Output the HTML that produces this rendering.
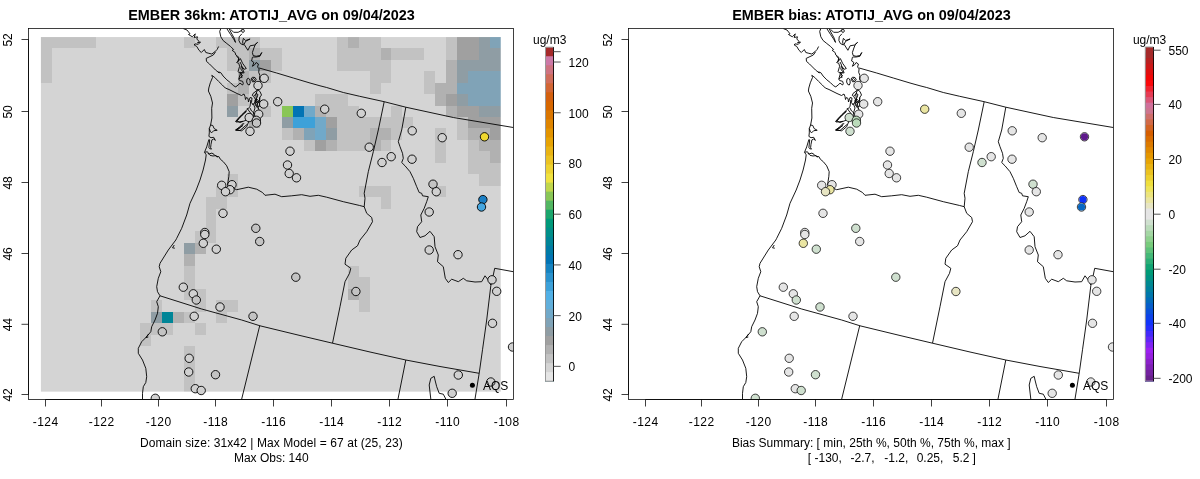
<!DOCTYPE html>
<html lang="en">
<head>
<meta charset="utf-8">
<title>EMBER 36km ATOTIJ_AVG</title>
<style>
html,body{margin:0;padding:0;background:#fff;}
body{width:1200px;height:479px;overflow:hidden;}
svg{display:block;}
text{font-family:"Liberation Sans",Arial,Helvetica,sans-serif;fill:#000;}
.t12{font-size:12px;}
.mid{text-anchor:middle;}
.xl{letter-spacing:0.45px;}
.ttl{font-size:14.4px;font-weight:bold;text-anchor:middle;}
</style>
</head>
<body>
<svg width="1200" height="479" viewBox="0 0 1200 479">
<defs><clipPath id="clipP"><rect x="28.5" y="28.5" width="485" height="371"/></clipPath></defs>
<rect x="0" y="0" width="1200" height="479" fill="#fff"/>
<g transform="translate(0,0)">
<g clip-path="url(#clipP)">
<g shape-rendering="crispEdges">
<rect x="40" y="36" width="462" height="357" fill="#D4D4D4"/>
<rect x="40" y="36" width="56" height="12" fill="#C2C2C2"/>
<rect x="184" y="36" width="11" height="12" fill="#C2C2C2"/>
<rect x="216" y="36" width="44" height="12" fill="#C2C2C2"/>
<rect x="337" y="36" width="11" height="12" fill="#C2C2C2"/>
<rect x="348" y="36" width="11" height="12" fill="#B1B1B1"/>
<rect x="359" y="36" width="22" height="12" fill="#C2C2C2"/>
<rect x="446" y="36" width="11" height="12" fill="#C2C2C2"/>
<rect x="457" y="36" width="22" height="12" fill="#A0A0A0"/>
<rect x="479" y="36" width="11" height="12" fill="#8F9DA4"/>
<rect x="490" y="36" width="12" height="12" fill="#80A3B7"/>
<rect x="40" y="48" width="12" height="12" fill="#C2C2C2"/>
<rect x="227" y="48" width="22" height="12" fill="#C2C2C2"/>
<rect x="249" y="48" width="11" height="12" fill="#B1B1B1"/>
<rect x="260" y="48" width="22" height="12" fill="#C2C2C2"/>
<rect x="337" y="48" width="44" height="12" fill="#C2C2C2"/>
<rect x="381" y="48" width="10" height="12" fill="#B1B1B1"/>
<rect x="391" y="48" width="33" height="12" fill="#C2C2C2"/>
<rect x="446" y="48" width="11" height="12" fill="#C2C2C2"/>
<rect x="457" y="48" width="22" height="12" fill="#A0A0A0"/>
<rect x="479" y="48" width="23" height="12" fill="#8F9DA4"/>
<rect x="40" y="60" width="12" height="11" fill="#C2C2C2"/>
<rect x="227" y="60" width="22" height="11" fill="#C2C2C2"/>
<rect x="249" y="60" width="11" height="11" fill="#8F9DA4"/>
<rect x="260" y="60" width="11" height="11" fill="#A0A0A0"/>
<rect x="271" y="60" width="11" height="11" fill="#C2C2C2"/>
<rect x="337" y="60" width="54" height="11" fill="#C2C2C2"/>
<rect x="446" y="60" width="11" height="11" fill="#B1B1B1"/>
<rect x="457" y="60" width="45" height="11" fill="#8F9DA4"/>
<rect x="40" y="71" width="12" height="12" fill="#C2C2C2"/>
<rect x="238" y="71" width="11" height="12" fill="#B1B1B1"/>
<rect x="249" y="71" width="22" height="12" fill="#C2C2C2"/>
<rect x="370" y="71" width="21" height="12" fill="#C2C2C2"/>
<rect x="424" y="71" width="11" height="12" fill="#C2C2C2"/>
<rect x="446" y="71" width="11" height="12" fill="#B1B1B1"/>
<rect x="457" y="71" width="11" height="12" fill="#8F9DA4"/>
<rect x="468" y="71" width="34" height="12" fill="#80A3B7"/>
<rect x="227" y="83" width="11" height="11" fill="#C2C2C2"/>
<rect x="238" y="83" width="11" height="11" fill="#B1B1B1"/>
<rect x="370" y="83" width="11" height="11" fill="#C2C2C2"/>
<rect x="424" y="83" width="11" height="11" fill="#C2C2C2"/>
<rect x="435" y="83" width="22" height="11" fill="#B1B1B1"/>
<rect x="457" y="83" width="45" height="11" fill="#80A3B7"/>
<rect x="227" y="94" width="11" height="12" fill="#A0A0A0"/>
<rect x="238" y="94" width="11" height="12" fill="#C2C2C2"/>
<rect x="315" y="94" width="33" height="12" fill="#C2C2C2"/>
<rect x="435" y="94" width="11" height="12" fill="#B1B1B1"/>
<rect x="446" y="94" width="11" height="12" fill="#A0A0A0"/>
<rect x="457" y="94" width="11" height="12" fill="#8F9DA4"/>
<rect x="468" y="94" width="34" height="12" fill="#80A3B7"/>
<rect x="227" y="106" width="11" height="11" fill="#8F9DA4"/>
<rect x="260" y="106" width="11" height="11" fill="#C2C2C2"/>
<rect x="282" y="106" width="11" height="11" fill="#89C657"/>
<rect x="293" y="106" width="11" height="11" fill="#0274B4"/>
<rect x="304" y="106" width="11" height="11" fill="#71A9C9"/>
<rect x="315" y="106" width="11" height="11" fill="#B1B1B1"/>
<rect x="326" y="106" width="33" height="11" fill="#C2C2C2"/>
<rect x="391" y="106" width="11" height="11" fill="#C2C2C2"/>
<rect x="446" y="106" width="11" height="11" fill="#B1B1B1"/>
<rect x="457" y="106" width="22" height="11" fill="#A0A0A0"/>
<rect x="479" y="106" width="23" height="11" fill="#8F9DA4"/>
<rect x="249" y="117" width="11" height="11" fill="#B1B1B1"/>
<rect x="282" y="117" width="11" height="11" fill="#8F9DA4"/>
<rect x="293" y="117" width="22" height="11" fill="#3DA1D9"/>
<rect x="315" y="117" width="11" height="11" fill="#71A9C9"/>
<rect x="326" y="117" width="11" height="11" fill="#A0A0A0"/>
<rect x="337" y="117" width="76" height="11" fill="#C2C2C2"/>
<rect x="457" y="117" width="11" height="11" fill="#C2C2C2"/>
<rect x="468" y="117" width="34" height="11" fill="#A0A0A0"/>
<rect x="282" y="128" width="11" height="12" fill="#C2C2C2"/>
<rect x="293" y="128" width="11" height="12" fill="#B1B1B1"/>
<rect x="304" y="128" width="11" height="12" fill="#80A3B7"/>
<rect x="315" y="128" width="11" height="12" fill="#71A9C9"/>
<rect x="326" y="128" width="11" height="12" fill="#8F9DA4"/>
<rect x="337" y="128" width="33" height="12" fill="#C2C2C2"/>
<rect x="370" y="128" width="21" height="12" fill="#B1B1B1"/>
<rect x="391" y="128" width="11" height="12" fill="#C2C2C2"/>
<rect x="435" y="128" width="11" height="12" fill="#C2C2C2"/>
<rect x="457" y="128" width="11" height="12" fill="#C2C2C2"/>
<rect x="468" y="128" width="22" height="12" fill="#B1B1B1"/>
<rect x="490" y="128" width="12" height="12" fill="#A0A0A0"/>
<rect x="304" y="140" width="11" height="11" fill="#C2C2C2"/>
<rect x="315" y="140" width="11" height="11" fill="#A0A0A0"/>
<rect x="326" y="140" width="11" height="11" fill="#B1B1B1"/>
<rect x="337" y="140" width="33" height="11" fill="#C2C2C2"/>
<rect x="370" y="140" width="11" height="11" fill="#B1B1B1"/>
<rect x="381" y="140" width="10" height="11" fill="#C2C2C2"/>
<rect x="435" y="140" width="11" height="11" fill="#C2C2C2"/>
<rect x="468" y="140" width="11" height="11" fill="#C2C2C2"/>
<rect x="479" y="140" width="23" height="11" fill="#B1B1B1"/>
<rect x="435" y="151" width="11" height="12" fill="#C2C2C2"/>
<rect x="468" y="151" width="22" height="12" fill="#C2C2C2"/>
<rect x="490" y="151" width="12" height="12" fill="#B1B1B1"/>
<rect x="468" y="163" width="34" height="11" fill="#C2C2C2"/>
<rect x="227" y="174" width="11" height="12" fill="#C2C2C2"/>
<rect x="479" y="174" width="23" height="12" fill="#C2C2C2"/>
<rect x="216" y="186" width="22" height="11" fill="#C2C2C2"/>
<rect x="359" y="186" width="32" height="11" fill="#C2C2C2"/>
<rect x="435" y="186" width="11" height="11" fill="#C2C2C2"/>
<rect x="206" y="197" width="21" height="12" fill="#C2C2C2"/>
<rect x="381" y="197" width="10" height="12" fill="#C2C2C2"/>
<rect x="206" y="209" width="10" height="11" fill="#C2C2C2"/>
<rect x="206" y="220" width="10" height="11" fill="#C2C2C2"/>
<rect x="195" y="231" width="21" height="12" fill="#C2C2C2"/>
<rect x="184" y="243" width="11" height="11" fill="#8F9DA4"/>
<rect x="195" y="243" width="11" height="11" fill="#B1B1B1"/>
<rect x="184" y="254" width="11" height="12" fill="#B1B1B1"/>
<rect x="184" y="266" width="11" height="11" fill="#C2C2C2"/>
<rect x="348" y="266" width="11" height="11" fill="#C2C2C2"/>
<rect x="184" y="277" width="11" height="12" fill="#C2C2C2"/>
<rect x="348" y="277" width="22" height="12" fill="#C2C2C2"/>
<rect x="184" y="289" width="22" height="11" fill="#C2C2C2"/>
<rect x="348" y="289" width="11" height="11" fill="#B1B1B1"/>
<rect x="359" y="289" width="11" height="11" fill="#C2C2C2"/>
<rect x="151" y="300" width="11" height="12" fill="#C2C2C2"/>
<rect x="195" y="300" width="11" height="12" fill="#C2C2C2"/>
<rect x="216" y="300" width="22" height="12" fill="#C2C2C2"/>
<rect x="359" y="300" width="11" height="12" fill="#C2C2C2"/>
<rect x="151" y="312" width="11" height="11" fill="#8F9DA4"/>
<rect x="162" y="312" width="11" height="11" fill="#008597"/>
<rect x="173" y="312" width="11" height="11" fill="#B1B1B1"/>
<rect x="184" y="312" width="11" height="11" fill="#C2C2C2"/>
<rect x="216" y="312" width="11" height="11" fill="#C2C2C2"/>
<rect x="140" y="323" width="33" height="12" fill="#C2C2C2"/>
<rect x="195" y="323" width="11" height="12" fill="#C2C2C2"/>
<rect x="140" y="335" width="11" height="11" fill="#C2C2C2"/>
<rect x="184" y="346" width="11" height="11" fill="#C2C2C2"/>
<rect x="184" y="357" width="11" height="12" fill="#C2C2C2"/>
<rect x="184" y="369" width="11" height="11" fill="#C2C2C2"/>
<rect x="184" y="380" width="11" height="13" fill="#C2C2C2"/>
</g>
<g fill="#fff">
<rect x="38" y="34" width="2.90" height="362"/>
<rect x="500.75" y="34" width="3.25" height="362"/>
<rect x="38" y="34" width="466" height="3.05"/>
<rect x="38" y="391.65" width="466" height="4.35"/>
</g>
<g fill="none" stroke="#000" stroke-width="0.9" stroke-linejoin="round">
<polyline points="183.3,28.6 187.0,30.0 190.0,33.8 188.5,34.5 192.3,36.8 195.3,33.8 194.2,37.5 197.5,36.8 196.8,39.0 199.0,41.3 197.5,42.8 200.5,42.0 198.3,44.3 194.9,43.9 194.2,45.0 196.8,46.5 199.0,50.3 201.3,52.5 204.3,49.5 205.8,52.5 208.8,53.3 211.8,54.0 214.8,51.8 217.1,49.5 218.6,46.5"/>
<polyline points="215.6,51.8 213.3,55.0 206.2,58.4 206.5,61.4 209.5,64.0 212.5,67.0 215.5,70.0 219.3,73.0 218.6,71.9 220.8,72.7 223.1,76.0 226.8,79.8 230.6,82.8 233.6,85.8 235.8,86.9 238.1,85.0 240.0,83.2 242.6,85.0 243.3,83.5 242.6,81.3"/>
<polyline points="220.8,28.6 219.7,31.5 220.8,36.8 223.1,40.5 226.8,43.5 230.6,46.5 233.6,49.5 232.1,50.3 235.1,52.5 235.8,55.0 238.8,57.3 238.1,61.0 236.6,62.5 238.8,63.3 239.6,66.3 238.1,71.5 240.3,73.8 238.8,79.0 239.6,80.5 242.6,81.3"/>
<polyline points="236.6,56.3 238.9,58.6 238.1,61.6 240.4,58.6 242.6,63.3 246.3,68.5 244.1,69.3 241.8,66.3 244.1,73.0 239.6,72.3 242.6,76.0 238.8,79.0"/>
<polyline points="240.0,62.0 241.5,65.0 240.8,69.0 242.5,71.5 241.0,75.5 242.0,78.0"/>
<polyline points="226.8,28.6 230.6,34.5 233.6,39.0 235.5,42.4 234.3,38.3 231.3,33.0 229.1,28.6"/>
<polyline points="230.6,29.3 233.6,32.3 238.1,32.3 241.1,30.8 241.9,29.3"/>
<polyline points="241.5,30.8 242.3,29.4 243.8,29.6 244.4,31.0 243.6,32.3 242.2,32.2 241.5,30.8"/>
<polyline points="241.9,33.8 239.2,36.8 238.9,40.5 240.4,43.5 243.4,45.0 242.6,42.0 243.4,38.3 245.6,40.5 250.1,39.0 245.6,41.3 244.1,44.3 247.9,50.3 250.1,45.8 254.6,45.0 257.6,42.4 255.4,44.3 253.9,48.0 252.4,52.5 253.1,55.5 256.1,56.3 259.9,55.5 261.8,52.5 259.9,56.3 256.1,57.0 253.1,57.0 252.4,57.3 251.6,61.0 253.9,62.5 252.4,66.3 254.6,64.8 256.1,62.5 258.4,64.0 257.6,67.0 259.1,68.9 258.7,72.3 259.9,75.3 259.5,79.0 260.6,81.3 258.3,83.0 257.5,89.7 255.8,94.7 256.7,101.3 258.3,107.8 260.0,113.3 260.0,121.7"/>
<polyline points="247.0,79.0 248.5,78.2 250.0,80.0 250.2,83.0 249.3,85.0 247.8,84.5 246.6,82.0 247.0,79.0"/>
<polyline points="251.0,79.0 252.5,77.2 255.0,77.5 256.2,79.5 255.0,81.5 252.6,81.8 251.0,79.0"/>
<polyline points="252.0,79.5 253.5,78.5 254.8,79.6 253.6,80.8 252.0,79.5"/>
<polyline points="211.8,75.3 214.8,77.5 218.5,81.3 222.3,85.0 225.3,88.0 229.0,89.5 232.0,91.0 237.0,93.5"/>
<polyline points="211.8,75.3 212.5,77.5 210.3,82.8 208.8,88.0 208.4,91.0 210.8,96.3 212.5,103.0"/>
<polyline points="212.5,103.0 211.7,108.3 211.9,118.0 210.6,125.0 209.3,128.5 209.3,132.9 208.9,136.4 211.0,137.7 213.7,137.3 215.4,140.4 213.7,139.0 211.9,139.9 211.0,144.3 210.6,147.8 211.5,149.1 209.7,148.7 208.9,147.8 209.7,139.9 208.9,139.5 206.7,146.9 204.9,151.3 204.5,152.2 207.5,151.8 208.9,154.0 211.9,153.1 214.1,154.4 216.3,156.6 218.9,156.6 220.3,159.2 223.3,161.7 226.7,165.8 229.2,171.7 228.8,176.7 227.5,185.0 233.3,188.3 236.7,189.7 248.3,187.2 256.7,189.2 262.5,192.5 265.0,195.3 275.0,194.2 281.7,196.7 291.7,195.8 301.7,194.7 310.0,196.3 318.3,195.3 326.7,197.2 343.3,201.7 359.7,205.5 364.2,206.7"/>
<polyline points="210.6,125.0 212.8,125.5 214.1,128.5 217.2,130.3 213.7,130.7 211.5,132.9 210.2,131.2 209.3,128.5"/>
<polyline points="207.8,153.0 210.0,155.3 213.0,156.0 216.0,155.6 218.0,157.2"/>
<polyline points="250.8,100.0 250.0,106.7 243.3,113.3 236.7,120.8 240.0,122.5 246.7,120.0 250.8,116.7 249.0,121.0 246.7,126.7 241.7,130.8 235.8,130.0 239.0,128.0 243.0,125.5"/>
<polyline points="253.0,103.0 255.0,108.0 253.5,113.0 256.0,117.0 254.0,121.0 257.0,124.0"/>
<polyline points="204.5,152.2 206.2,154.8 205.5,160.0 203.1,170.0 200.0,180.0 196.2,190.0 190.0,203.3 186.7,215.0 181.7,228.3 176.7,238.3 175.8,240.0 168.3,250.0 160.0,263.3 159.2,266.7 160.8,271.7 158.3,278.3 156.7,286.7 157.5,291.7 160.0,295.8 156.7,301.7 158.3,306.7 157.5,313.3 155.0,320.0 151.7,326.7 150.8,331.7 146.7,336.7 141.7,341.7 138.3,348.3 138.3,353.3 142.5,360.0 145.8,368.3 146.7,376.7 145.8,382.5 143.3,386.7 142.5,393.3 142.5,399.0"/>
<polyline points="259.2,68.0 276.7,73.0 293.3,78.0 310.0,83.0 320.0,85.8 326.7,87.5 343.3,92.5 359.7,96.3 384.2,101.7 405.8,107.2 453.3,117.5 513.3,127.5"/>
<polyline points="160.0,295.8 201.7,309.0 241.7,320.0 260.0,325.8 300.0,335.5 332.5,343.2 370.0,352.0 405.8,360.0 440.0,366.5 479.2,373.3"/>
<polyline points="259.7,325.8 241.7,399.0"/>
<polyline points="405.8,360.0 398.0,399.0"/>
<polyline points="384.2,101.7 378.3,130.0 373.3,151.7 368.3,171.7 364.2,193.3 365.0,198.3 364.2,206.7"/>
<polyline points="364.2,206.7 366.7,213.3 371.7,217.5 372.5,221.7 366.7,231.7 360.0,240.0 357.5,245.8 351.7,250.0 345.8,258.3 345.0,264.2 350.8,268.3 349.5,273.3 345.0,281.7 340.0,306.7 332.5,343.2"/>
<polyline points="405.8,107.2 401.7,130.0 398.3,141.7 400.0,146.7 402.5,153.3 403.3,158.3 401.7,162.5 405.0,165.8 410.0,171.7 413.3,178.3 416.7,186.7 419.2,192.5 421.7,193.3 422.5,195.8 428.3,196.7 426.7,201.7 424.2,208.3 420.8,215.0 421.7,221.7 417.5,226.7 416.7,231.7 420.0,237.5 425.0,235.8 430.0,231.3 434.2,236.7 435.0,246.7 438.3,255.0 437.5,261.7 443.3,266.7 445.3,278.3 448.3,282.5 451.7,279.2 458.3,281.7 463.3,278.3 466.7,280.8 475.0,282.0 481.7,281.7 485.0,275.8 488.3,280.0 490.8,285.0"/>
<polyline points="513.3,271.7 494.7,268.3 493.3,275.0 490.8,285.8 486.7,320.0 482.5,349.8 479.2,373.3 475.0,399.0"/>
<polyline points="237.0,93.5 241.5,95.5 244.0,94.0 245.0,96.5 245.5,99.5 246.5,97.5 248.0,98.5 248.5,102.0 250.0,97.5 252.0,98.0 251.5,102.5 253.0,105.0"/>
<polyline points="257.5,90.0 253.0,93.5 252.3,95.5 254.0,96.5 256.0,93.5 258.0,94.5 257.0,97.5 255.0,100.0 256.0,103.0 257.5,101.0 259.0,103.0 260.0,97.0 261.5,95.0 260.0,91.5 258.0,90.0"/>
<polyline points="259.5,97.5 260.0,103.0 259.0,107.0 257.0,106.0 255.0,102.5 256.5,99.0 258.5,100.5 257.5,104.0"/>
<polyline points="254.0,97.0 255.5,99.5 254.5,103.0 256.0,106.0 258.0,108.5"/>
<polyline points="246.0,111.0 242.0,114.5 238.5,118.0 235.5,121.5 236.0,122.0 239.5,121.8 243.0,121.3"/>
<polyline points="246.6,111.4 242.5,115.0 239.0,118.6 236.2,121.8"/>
<polyline points="243.5,123.0 239.0,127.5 235.5,130.0 240.0,130.5 244.0,127.0 247.0,124.5"/>
<polyline points="244.0,123.3 240.0,127.8 236.5,130.4"/>
<polyline points="247.0,108.0 249.0,111.0 251.0,113.5 253.5,116.0"/>
<polyline points="250.0,108.0 251.5,111.0 253.5,112.5 254.0,115.5 253.0,117.5"/>
<polyline points="174.3,245.0 172.5,247.8 174.8,248.2"/>
<polyline points="148.5,334.0 146.0,337.5 148.3,337.0"/>
<polyline points="430.8,399.0 429.2,385.0 430.8,378.3 434.2,376.3 435.0,380.0 436.7,386.7 439.2,393.3 443.3,394.2 445.8,399.0"/>
</g>
<g stroke="#000" stroke-width="0.9">
<circle cx="264.2" cy="78.3" r="4.2" fill="#D0D0D0"/>
<circle cx="258.0" cy="85.5" r="4.2" fill="#D0D0D0"/>
<circle cx="263.7" cy="104.0" r="4.2" fill="#D0D0D0"/>
<circle cx="277.7" cy="101.7" r="4.2" fill="#D0D0D0"/>
<circle cx="324.7" cy="109.2" r="4.2" fill="#D0D0D0"/>
<circle cx="361.3" cy="113.3" r="4.2" fill="#D0D0D0"/>
<circle cx="258.7" cy="114.2" r="4.2" fill="#D0D0D0"/>
<circle cx="249.2" cy="117.5" r="4.2" fill="#D0D0D0"/>
<circle cx="256.3" cy="120.3" r="4.2" fill="#C3C3C3"/>
<circle cx="256.5" cy="123.0" r="4.2" fill="#C3C3C3"/>
<circle cx="250.0" cy="131.3" r="4.2" fill="#D0D0D0"/>
<circle cx="290.0" cy="151.2" r="4.2" fill="#D0D0D0"/>
<circle cx="287.5" cy="165.0" r="4.2" fill="#D0D0D0"/>
<circle cx="289.2" cy="173.5" r="4.2" fill="#D0D0D0"/>
<circle cx="296.5" cy="177.8" r="4.2" fill="#D0D0D0"/>
<circle cx="221.7" cy="185.3" r="4.2" fill="#D0D0D0"/>
<circle cx="232.0" cy="184.7" r="4.2" fill="#D0D0D0"/>
<circle cx="230.0" cy="189.7" r="4.2" fill="#D0D0D0"/>
<circle cx="225.5" cy="191.7" r="4.2" fill="#D0D0D0"/>
<circle cx="223.0" cy="213.3" r="4.2" fill="#D0D0D0"/>
<circle cx="255.8" cy="228.3" r="4.2" fill="#C3C3C3"/>
<circle cx="259.7" cy="241.5" r="4.2" fill="#C3C3C3"/>
<circle cx="204.8" cy="232.5" r="4.2" fill="#D0D0D0"/>
<circle cx="204.8" cy="234.5" r="4.2" fill="#D0D0D0"/>
<circle cx="203.3" cy="243.3" r="4.2" fill="#D0D0D0"/>
<circle cx="216.3" cy="249.2" r="4.2" fill="#D0D0D0"/>
<circle cx="295.8" cy="277.2" r="4.2" fill="#C3C3C3"/>
<circle cx="355.9" cy="291.5" r="4.2" fill="#C3C3C3"/>
<circle cx="183.3" cy="287.2" r="4.2" fill="#D0D0D0"/>
<circle cx="193.3" cy="293.8" r="4.2" fill="#D0D0D0"/>
<circle cx="196.3" cy="300.0" r="4.2" fill="#C3C3C3"/>
<circle cx="220.0" cy="307.0" r="4.2" fill="#D0D0D0"/>
<circle cx="194.2" cy="316.3" r="4.2" fill="#D0D0D0"/>
<circle cx="253.0" cy="316.3" r="4.2" fill="#C3C3C3"/>
<circle cx="162.3" cy="331.8" r="4.2" fill="#C3C3C3"/>
<circle cx="189.2" cy="358.3" r="4.2" fill="#D0D0D0"/>
<circle cx="188.7" cy="372.0" r="4.2" fill="#D0D0D0"/>
<circle cx="215.5" cy="374.7" r="4.2" fill="#C3C3C3"/>
<circle cx="195.3" cy="388.7" r="4.2" fill="#D0D0D0"/>
<circle cx="201.2" cy="390.5" r="4.2" fill="#D0D0D0"/>
<circle cx="155.3" cy="398.3" r="4.2" fill="#D0D0D0"/>
<circle cx="412.2" cy="130.8" r="4.2" fill="#D0D0D0"/>
<circle cx="442.2" cy="137.7" r="4.2" fill="#D0D0D0"/>
<circle cx="484.5" cy="136.8" r="4.2" fill="#EFD830"/>
<circle cx="369.2" cy="147.2" r="4.2" fill="#D0D0D0"/>
<circle cx="391.2" cy="156.7" r="4.2" fill="#D0D0D0"/>
<circle cx="382.0" cy="162.5" r="4.2" fill="#D0D0D0"/>
<circle cx="412.0" cy="159.2" r="4.2" fill="#D0D0D0"/>
<circle cx="433.0" cy="184.2" r="4.2" fill="#C3C3C3"/>
<circle cx="436.3" cy="191.7" r="4.2" fill="#D0D0D0"/>
<circle cx="482.9" cy="199.6" r="4.2" fill="#1C7FC4"/>
<circle cx="481.5" cy="207.0" r="4.2" fill="#45A6DF"/>
<circle cx="429.2" cy="212.0" r="4.2" fill="#D0D0D0"/>
<circle cx="429.2" cy="250.0" r="4.2" fill="#D0D0D0"/>
<circle cx="458.0" cy="254.7" r="4.2" fill="#D0D0D0"/>
<circle cx="492.0" cy="279.8" r="4.2" fill="#D0D0D0"/>
<circle cx="496.7" cy="291.3" r="4.2" fill="#D0D0D0"/>
<circle cx="492.5" cy="323.3" r="4.2" fill="#D0D0D0"/>
<circle cx="512.5" cy="347.0" r="4.2" fill="#D0D0D0"/>
<circle cx="458.3" cy="375.0" r="4.2" fill="#D0D0D0"/>
<circle cx="452.2" cy="393.3" r="4.2" fill="#D0D0D0"/>
<circle cx="490.8" cy="382.0" r="4.2" fill="#D0D0D0"/>
</g>
<circle cx="472.4" cy="385.3" r="2.5" fill="#000"/>
<text x="483" y="389.8" class="t12">AQS</text>
</g>
<rect x="28.5" y="28.5" width="485" height="371" fill="none" stroke="#000" stroke-width="0.75"/>
<g stroke="#000" stroke-width="0.75" fill="none">
<path d="M45.5 399.5H506.5"/>
<path d="M28.5 39.5V394.5"/>
<path d="M45.5 399.5V406.5"/>
<path d="M101.5 399.5V406.5"/>
<path d="M158.5 399.5V406.5"/>
<path d="M215.5 399.5V406.5"/>
<path d="M273.5 399.5V406.5"/>
<path d="M331.5 399.5V406.5"/>
<path d="M389.5 399.5V406.5"/>
<path d="M447.5 399.5V406.5"/>
<path d="M506.5 399.5V406.5"/>
<path d="M28.5 39.5H21.5"/>
<path d="M28.5 111.5H21.5"/>
<path d="M28.5 182.5H21.5"/>
<path d="M28.5 253.5H21.5"/>
<path d="M28.5 324.3H21.5"/>
<path d="M28.5 394.5H21.5"/>
</g>
<text x="45.7" y="425.6" class="t12 mid xl">-124</text>
<text x="101.7" y="425.6" class="t12 mid xl">-122</text>
<text x="158.7" y="425.6" class="t12 mid xl">-120</text>
<text x="215.7" y="425.6" class="t12 mid xl">-118</text>
<text x="273.7" y="425.6" class="t12 mid xl">-116</text>
<text x="331.7" y="425.6" class="t12 mid xl">-114</text>
<text x="389.7" y="425.6" class="t12 mid xl">-112</text>
<text x="447.7" y="425.6" class="t12 mid xl">-110</text>
<text x="506.7" y="425.6" class="t12 mid xl">-108</text>
<text transform="translate(12.2,39.9) rotate(-90)" class="t12 mid">52</text>
<text transform="translate(12.2,111.9) rotate(-90)" class="t12 mid">50</text>
<text transform="translate(12.2,182.9) rotate(-90)" class="t12 mid">48</text>
<text transform="translate(12.2,253.9) rotate(-90)" class="t12 mid">46</text>
<text transform="translate(12.2,324.7) rotate(-90)" class="t12 mid">44</text>
<text transform="translate(12.2,394.9) rotate(-90)" class="t12 mid">42</text>
</g>
<g transform="translate(600,0)">
<g clip-path="url(#clipP)">
<g fill="none" stroke="#000" stroke-width="0.9" stroke-linejoin="round">
<polyline points="183.3,28.6 187.0,30.0 190.0,33.8 188.5,34.5 192.3,36.8 195.3,33.8 194.2,37.5 197.5,36.8 196.8,39.0 199.0,41.3 197.5,42.8 200.5,42.0 198.3,44.3 194.9,43.9 194.2,45.0 196.8,46.5 199.0,50.3 201.3,52.5 204.3,49.5 205.8,52.5 208.8,53.3 211.8,54.0 214.8,51.8 217.1,49.5 218.6,46.5"/>
<polyline points="215.6,51.8 213.3,55.0 206.2,58.4 206.5,61.4 209.5,64.0 212.5,67.0 215.5,70.0 219.3,73.0 218.6,71.9 220.8,72.7 223.1,76.0 226.8,79.8 230.6,82.8 233.6,85.8 235.8,86.9 238.1,85.0 240.0,83.2 242.6,85.0 243.3,83.5 242.6,81.3"/>
<polyline points="220.8,28.6 219.7,31.5 220.8,36.8 223.1,40.5 226.8,43.5 230.6,46.5 233.6,49.5 232.1,50.3 235.1,52.5 235.8,55.0 238.8,57.3 238.1,61.0 236.6,62.5 238.8,63.3 239.6,66.3 238.1,71.5 240.3,73.8 238.8,79.0 239.6,80.5 242.6,81.3"/>
<polyline points="236.6,56.3 238.9,58.6 238.1,61.6 240.4,58.6 242.6,63.3 246.3,68.5 244.1,69.3 241.8,66.3 244.1,73.0 239.6,72.3 242.6,76.0 238.8,79.0"/>
<polyline points="240.0,62.0 241.5,65.0 240.8,69.0 242.5,71.5 241.0,75.5 242.0,78.0"/>
<polyline points="226.8,28.6 230.6,34.5 233.6,39.0 235.5,42.4 234.3,38.3 231.3,33.0 229.1,28.6"/>
<polyline points="230.6,29.3 233.6,32.3 238.1,32.3 241.1,30.8 241.9,29.3"/>
<polyline points="241.5,30.8 242.3,29.4 243.8,29.6 244.4,31.0 243.6,32.3 242.2,32.2 241.5,30.8"/>
<polyline points="241.9,33.8 239.2,36.8 238.9,40.5 240.4,43.5 243.4,45.0 242.6,42.0 243.4,38.3 245.6,40.5 250.1,39.0 245.6,41.3 244.1,44.3 247.9,50.3 250.1,45.8 254.6,45.0 257.6,42.4 255.4,44.3 253.9,48.0 252.4,52.5 253.1,55.5 256.1,56.3 259.9,55.5 261.8,52.5 259.9,56.3 256.1,57.0 253.1,57.0 252.4,57.3 251.6,61.0 253.9,62.5 252.4,66.3 254.6,64.8 256.1,62.5 258.4,64.0 257.6,67.0 259.1,68.9 258.7,72.3 259.9,75.3 259.5,79.0 260.6,81.3 258.3,83.0 257.5,89.7 255.8,94.7 256.7,101.3 258.3,107.8 260.0,113.3 260.0,121.7"/>
<polyline points="247.0,79.0 248.5,78.2 250.0,80.0 250.2,83.0 249.3,85.0 247.8,84.5 246.6,82.0 247.0,79.0"/>
<polyline points="251.0,79.0 252.5,77.2 255.0,77.5 256.2,79.5 255.0,81.5 252.6,81.8 251.0,79.0"/>
<polyline points="252.0,79.5 253.5,78.5 254.8,79.6 253.6,80.8 252.0,79.5"/>
<polyline points="211.8,75.3 214.8,77.5 218.5,81.3 222.3,85.0 225.3,88.0 229.0,89.5 232.0,91.0 237.0,93.5"/>
<polyline points="211.8,75.3 212.5,77.5 210.3,82.8 208.8,88.0 208.4,91.0 210.8,96.3 212.5,103.0"/>
<polyline points="212.5,103.0 211.7,108.3 211.9,118.0 210.6,125.0 209.3,128.5 209.3,132.9 208.9,136.4 211.0,137.7 213.7,137.3 215.4,140.4 213.7,139.0 211.9,139.9 211.0,144.3 210.6,147.8 211.5,149.1 209.7,148.7 208.9,147.8 209.7,139.9 208.9,139.5 206.7,146.9 204.9,151.3 204.5,152.2 207.5,151.8 208.9,154.0 211.9,153.1 214.1,154.4 216.3,156.6 218.9,156.6 220.3,159.2 223.3,161.7 226.7,165.8 229.2,171.7 228.8,176.7 227.5,185.0 233.3,188.3 236.7,189.7 248.3,187.2 256.7,189.2 262.5,192.5 265.0,195.3 275.0,194.2 281.7,196.7 291.7,195.8 301.7,194.7 310.0,196.3 318.3,195.3 326.7,197.2 343.3,201.7 359.7,205.5 364.2,206.7"/>
<polyline points="210.6,125.0 212.8,125.5 214.1,128.5 217.2,130.3 213.7,130.7 211.5,132.9 210.2,131.2 209.3,128.5"/>
<polyline points="207.8,153.0 210.0,155.3 213.0,156.0 216.0,155.6 218.0,157.2"/>
<polyline points="250.8,100.0 250.0,106.7 243.3,113.3 236.7,120.8 240.0,122.5 246.7,120.0 250.8,116.7 249.0,121.0 246.7,126.7 241.7,130.8 235.8,130.0 239.0,128.0 243.0,125.5"/>
<polyline points="253.0,103.0 255.0,108.0 253.5,113.0 256.0,117.0 254.0,121.0 257.0,124.0"/>
<polyline points="204.5,152.2 206.2,154.8 205.5,160.0 203.1,170.0 200.0,180.0 196.2,190.0 190.0,203.3 186.7,215.0 181.7,228.3 176.7,238.3 175.8,240.0 168.3,250.0 160.0,263.3 159.2,266.7 160.8,271.7 158.3,278.3 156.7,286.7 157.5,291.7 160.0,295.8 156.7,301.7 158.3,306.7 157.5,313.3 155.0,320.0 151.7,326.7 150.8,331.7 146.7,336.7 141.7,341.7 138.3,348.3 138.3,353.3 142.5,360.0 145.8,368.3 146.7,376.7 145.8,382.5 143.3,386.7 142.5,393.3 142.5,399.0"/>
<polyline points="259.2,68.0 276.7,73.0 293.3,78.0 310.0,83.0 320.0,85.8 326.7,87.5 343.3,92.5 359.7,96.3 384.2,101.7 405.8,107.2 453.3,117.5 513.3,127.5"/>
<polyline points="160.0,295.8 201.7,309.0 241.7,320.0 260.0,325.8 300.0,335.5 332.5,343.2 370.0,352.0 405.8,360.0 440.0,366.5 479.2,373.3"/>
<polyline points="259.7,325.8 241.7,399.0"/>
<polyline points="405.8,360.0 398.0,399.0"/>
<polyline points="384.2,101.7 378.3,130.0 373.3,151.7 368.3,171.7 364.2,193.3 365.0,198.3 364.2,206.7"/>
<polyline points="364.2,206.7 366.7,213.3 371.7,217.5 372.5,221.7 366.7,231.7 360.0,240.0 357.5,245.8 351.7,250.0 345.8,258.3 345.0,264.2 350.8,268.3 349.5,273.3 345.0,281.7 340.0,306.7 332.5,343.2"/>
<polyline points="405.8,107.2 401.7,130.0 398.3,141.7 400.0,146.7 402.5,153.3 403.3,158.3 401.7,162.5 405.0,165.8 410.0,171.7 413.3,178.3 416.7,186.7 419.2,192.5 421.7,193.3 422.5,195.8 428.3,196.7 426.7,201.7 424.2,208.3 420.8,215.0 421.7,221.7 417.5,226.7 416.7,231.7 420.0,237.5 425.0,235.8 430.0,231.3 434.2,236.7 435.0,246.7 438.3,255.0 437.5,261.7 443.3,266.7 445.3,278.3 448.3,282.5 451.7,279.2 458.3,281.7 463.3,278.3 466.7,280.8 475.0,282.0 481.7,281.7 485.0,275.8 488.3,280.0 490.8,285.0"/>
<polyline points="513.3,271.7 494.7,268.3 493.3,275.0 490.8,285.8 486.7,320.0 482.5,349.8 479.2,373.3 475.0,399.0"/>
<polyline points="237.0,93.5 241.5,95.5 244.0,94.0 245.0,96.5 245.5,99.5 246.5,97.5 248.0,98.5 248.5,102.0 250.0,97.5 252.0,98.0 251.5,102.5 253.0,105.0"/>
<polyline points="257.5,90.0 253.0,93.5 252.3,95.5 254.0,96.5 256.0,93.5 258.0,94.5 257.0,97.5 255.0,100.0 256.0,103.0 257.5,101.0 259.0,103.0 260.0,97.0 261.5,95.0 260.0,91.5 258.0,90.0"/>
<polyline points="259.5,97.5 260.0,103.0 259.0,107.0 257.0,106.0 255.0,102.5 256.5,99.0 258.5,100.5 257.5,104.0"/>
<polyline points="254.0,97.0 255.5,99.5 254.5,103.0 256.0,106.0 258.0,108.5"/>
<polyline points="246.0,111.0 242.0,114.5 238.5,118.0 235.5,121.5 236.0,122.0 239.5,121.8 243.0,121.3"/>
<polyline points="246.6,111.4 242.5,115.0 239.0,118.6 236.2,121.8"/>
<polyline points="243.5,123.0 239.0,127.5 235.5,130.0 240.0,130.5 244.0,127.0 247.0,124.5"/>
<polyline points="244.0,123.3 240.0,127.8 236.5,130.4"/>
<polyline points="247.0,108.0 249.0,111.0 251.0,113.5 253.5,116.0"/>
<polyline points="250.0,108.0 251.5,111.0 253.5,112.5 254.0,115.5 253.0,117.5"/>
<polyline points="174.3,245.0 172.5,247.8 174.8,248.2"/>
<polyline points="148.5,334.0 146.0,337.5 148.3,337.0"/>
<polyline points="430.8,399.0 429.2,385.0 430.8,378.3 434.2,376.3 435.0,380.0 436.7,386.7 439.2,393.3 443.3,394.2 445.8,399.0"/>
</g>
<g stroke="#111" stroke-width="0.8">
<circle cx="264.2" cy="78.3" r="4.2" fill="#E5E5E5"/>
<circle cx="258.0" cy="85.5" r="4.2" fill="#E5E5E5"/>
<circle cx="263.7" cy="104.0" r="4.2" fill="#E5E5E5"/>
<circle cx="277.7" cy="101.7" r="4.2" fill="#E5E5E5"/>
<circle cx="324.7" cy="109.2" r="4.2" fill="#EAE5A2"/>
<circle cx="361.3" cy="113.3" r="4.2" fill="#E5E5E5"/>
<circle cx="258.7" cy="114.2" r="4.2" fill="#E5E5E5"/>
<circle cx="249.2" cy="117.5" r="4.2" fill="#CFE0CF"/>
<circle cx="256.3" cy="120.3" r="4.2" fill="#BADBBA"/>
<circle cx="256.5" cy="123.0" r="4.2" fill="#BADBBA"/>
<circle cx="250.0" cy="131.3" r="4.2" fill="#CFE0CF"/>
<circle cx="290.0" cy="151.2" r="4.2" fill="#E5E5E5"/>
<circle cx="287.5" cy="165.0" r="4.2" fill="#E5E5E5"/>
<circle cx="289.2" cy="173.5" r="4.2" fill="#E5E5E5"/>
<circle cx="296.5" cy="177.8" r="4.2" fill="#E5E5E5"/>
<circle cx="221.7" cy="185.3" r="4.2" fill="#E5E5E5"/>
<circle cx="232.0" cy="184.7" r="4.2" fill="#E5E5E5"/>
<circle cx="230.0" cy="189.7" r="4.2" fill="#EAE5A2"/>
<circle cx="225.5" cy="191.7" r="4.2" fill="#E7E5C3"/>
<circle cx="223.0" cy="213.3" r="4.2" fill="#E5E5E5"/>
<circle cx="255.8" cy="228.3" r="4.2" fill="#CFE0CF"/>
<circle cx="259.7" cy="241.5" r="4.2" fill="#E5E5E5"/>
<circle cx="204.8" cy="232.5" r="4.2" fill="#E5E5E5"/>
<circle cx="204.8" cy="234.5" r="4.2" fill="#E5E5E5"/>
<circle cx="203.3" cy="243.3" r="4.2" fill="#EAE5A2"/>
<circle cx="216.3" cy="249.2" r="4.2" fill="#CFE0CF"/>
<circle cx="295.8" cy="277.2" r="4.2" fill="#CFE0CF"/>
<circle cx="355.9" cy="291.5" r="4.2" fill="#E7E5C3"/>
<circle cx="183.3" cy="287.2" r="4.2" fill="#E5E5E5"/>
<circle cx="193.3" cy="293.8" r="4.2" fill="#E5E5E5"/>
<circle cx="196.3" cy="300.0" r="4.2" fill="#CFE0CF"/>
<circle cx="220.0" cy="307.0" r="4.2" fill="#CFE0CF"/>
<circle cx="194.2" cy="316.3" r="4.2" fill="#E5E5E5"/>
<circle cx="253.0" cy="316.3" r="4.2" fill="#E5E5E5"/>
<circle cx="162.3" cy="331.8" r="4.2" fill="#CFE0CF"/>
<circle cx="189.2" cy="358.3" r="4.2" fill="#E5E5E5"/>
<circle cx="188.7" cy="372.0" r="4.2" fill="#E5E5E5"/>
<circle cx="215.5" cy="374.7" r="4.2" fill="#CFE0CF"/>
<circle cx="195.3" cy="388.7" r="4.2" fill="#E5E5E5"/>
<circle cx="201.2" cy="390.5" r="4.2" fill="#CFE0CF"/>
<circle cx="155.3" cy="398.3" r="4.2" fill="#CFE0CF"/>
<circle cx="412.2" cy="130.8" r="4.2" fill="#E5E5E5"/>
<circle cx="442.2" cy="137.7" r="4.2" fill="#E5E5E5"/>
<circle cx="484.5" cy="136.8" r="4.2" fill="#DCDCDC"/>
<circle cx="484.5" cy="136.8" r="3.6" fill="#5E1A8B" stroke="none"/>
<circle cx="369.2" cy="147.2" r="4.2" fill="#E5E5E5"/>
<circle cx="391.2" cy="156.7" r="4.2" fill="#E5E5E5"/>
<circle cx="382.0" cy="162.5" r="4.2" fill="#CFE0CF"/>
<circle cx="412.0" cy="159.2" r="4.2" fill="#E5E5E5"/>
<circle cx="433.0" cy="184.2" r="4.2" fill="#CFE0CF"/>
<circle cx="436.3" cy="191.7" r="4.2" fill="#E5E5E5"/>
<circle cx="482.9" cy="199.6" r="4.2" fill="#DCDCDC"/>
<circle cx="482.9" cy="199.6" r="3.6" fill="#0F32F8" stroke="none"/>
<circle cx="481.5" cy="207.0" r="4.2" fill="#DCDCDC"/>
<circle cx="481.5" cy="207.0" r="3.6" fill="#0868C4" stroke="none"/>
<circle cx="429.2" cy="212.0" r="4.2" fill="#E5E5E5"/>
<circle cx="429.2" cy="250.0" r="4.2" fill="#E5E5E5"/>
<circle cx="458.0" cy="254.7" r="4.2" fill="#E5E5E5"/>
<circle cx="492.0" cy="279.8" r="4.2" fill="#E5E5E5"/>
<circle cx="496.7" cy="291.3" r="4.2" fill="#E5E5E5"/>
<circle cx="492.5" cy="323.3" r="4.2" fill="#E5E5E5"/>
<circle cx="512.5" cy="347.0" r="4.2" fill="#E5E5E5"/>
<circle cx="458.3" cy="375.0" r="4.2" fill="#E5E5E5"/>
<circle cx="452.2" cy="393.3" r="4.2" fill="#E5E5E5"/>
<circle cx="490.8" cy="382.0" r="4.2" fill="#E5E5E5"/>
</g>
<circle cx="472.4" cy="385.3" r="2.5" fill="#000"/>
<text x="483" y="389.8" class="t12">AQS</text>
</g>
<rect x="28.5" y="28.5" width="485" height="371" fill="none" stroke="#000" stroke-width="0.75"/>
<g stroke="#000" stroke-width="0.75" fill="none">
<path d="M45.5 399.5H506.5"/>
<path d="M28.5 39.5V394.5"/>
<path d="M45.5 399.5V406.5"/>
<path d="M101.5 399.5V406.5"/>
<path d="M158.5 399.5V406.5"/>
<path d="M215.5 399.5V406.5"/>
<path d="M273.5 399.5V406.5"/>
<path d="M331.5 399.5V406.5"/>
<path d="M389.5 399.5V406.5"/>
<path d="M447.5 399.5V406.5"/>
<path d="M506.5 399.5V406.5"/>
<path d="M28.5 39.5H21.5"/>
<path d="M28.5 111.5H21.5"/>
<path d="M28.5 182.5H21.5"/>
<path d="M28.5 253.5H21.5"/>
<path d="M28.5 324.3H21.5"/>
<path d="M28.5 394.5H21.5"/>
</g>
<text x="45.7" y="425.6" class="t12 mid xl">-124</text>
<text x="101.7" y="425.6" class="t12 mid xl">-122</text>
<text x="158.7" y="425.6" class="t12 mid xl">-120</text>
<text x="215.7" y="425.6" class="t12 mid xl">-118</text>
<text x="273.7" y="425.6" class="t12 mid xl">-116</text>
<text x="331.7" y="425.6" class="t12 mid xl">-114</text>
<text x="389.7" y="425.6" class="t12 mid xl">-112</text>
<text x="447.7" y="425.6" class="t12 mid xl">-110</text>
<text x="506.7" y="425.6" class="t12 mid xl">-108</text>
<text transform="translate(12.2,39.9) rotate(-90)" class="t12 mid">52</text>
<text transform="translate(12.2,111.9) rotate(-90)" class="t12 mid">50</text>
<text transform="translate(12.2,182.9) rotate(-90)" class="t12 mid">48</text>
<text transform="translate(12.2,253.9) rotate(-90)" class="t12 mid">46</text>
<text transform="translate(12.2,324.7) rotate(-90)" class="t12 mid">44</text>
<text transform="translate(12.2,394.9) rotate(-90)" class="t12 mid">42</text>
</g>
<rect x="545.5" y="47.20" width="8.0" height="334.00" fill="#A52A2A"/>
<rect x="545.5" y="56.23" width="8.0" height="324.97" fill="#CC79A7"/>
<rect x="545.5" y="65.25" width="8.0" height="315.95" fill="#CE7381"/>
<rect x="545.5" y="74.28" width="8.0" height="306.92" fill="#D06D5B"/>
<rect x="545.5" y="83.31" width="8.0" height="297.89" fill="#D26634"/>
<rect x="545.5" y="92.34" width="8.0" height="288.86" fill="#D4600E"/>
<rect x="545.5" y="101.36" width="8.0" height="279.84" fill="#D76700"/>
<rect x="545.5" y="110.39" width="8.0" height="270.81" fill="#DB7600"/>
<rect x="545.5" y="119.42" width="8.0" height="261.78" fill="#DF8500"/>
<rect x="545.5" y="128.44" width="8.0" height="252.76" fill="#E39400"/>
<rect x="545.5" y="137.47" width="8.0" height="243.73" fill="#E7A304"/>
<rect x="545.5" y="146.50" width="8.0" height="234.70" fill="#E9B313"/>
<rect x="545.5" y="155.52" width="8.0" height="225.68" fill="#EBC222"/>
<rect x="545.5" y="164.55" width="8.0" height="216.65" fill="#EDD231"/>
<rect x="545.5" y="173.58" width="8.0" height="207.62" fill="#F0E240"/>
<rect x="545.5" y="182.61" width="8.0" height="198.59" fill="#C0D64C"/>
<rect x="545.5" y="191.63" width="8.0" height="189.57" fill="#89C657"/>
<rect x="545.5" y="200.66" width="8.0" height="180.54" fill="#52B662"/>
<rect x="545.5" y="209.69" width="8.0" height="171.51" fill="#1BA66D"/>
<rect x="545.5" y="218.71" width="8.0" height="162.49" fill="#00997A"/>
<rect x="545.5" y="227.74" width="8.0" height="153.46" fill="#008F89"/>
<rect x="545.5" y="236.77" width="8.0" height="144.43" fill="#008597"/>
<rect x="545.5" y="245.79" width="8.0" height="135.41" fill="#007BA5"/>
<rect x="545.5" y="254.82" width="8.0" height="126.38" fill="#0274B4"/>
<rect x="545.5" y="263.85" width="8.0" height="117.35" fill="#1683C0"/>
<rect x="545.5" y="272.88" width="8.0" height="108.32" fill="#2A92CD"/>
<rect x="545.5" y="281.90" width="8.0" height="99.30" fill="#3DA1D9"/>
<rect x="545.5" y="290.93" width="8.0" height="90.27" fill="#51B0E6"/>
<rect x="545.5" y="299.96" width="8.0" height="81.24" fill="#61AFDB"/>
<rect x="545.5" y="308.98" width="8.0" height="72.22" fill="#71A9C9"/>
<rect x="545.5" y="318.01" width="8.0" height="63.19" fill="#80A3B7"/>
<rect x="545.5" y="327.04" width="8.0" height="54.16" fill="#8F9DA4"/>
<rect x="545.5" y="336.06" width="8.0" height="45.14" fill="#A0A0A0"/>
<rect x="545.5" y="345.09" width="8.0" height="36.11" fill="#B1B1B1"/>
<rect x="545.5" y="354.12" width="8.0" height="27.08" fill="#C2C2C2"/>
<rect x="545.5" y="363.15" width="8.0" height="18.05" fill="#D4D4D4"/>
<rect x="545.5" y="372.17" width="8.0" height="9.03" fill="#E5E5E5"/>
<path d="M553.5 47.20H545.5V381.20H553.5" fill="none" stroke="#999" stroke-width="1"/>
<path d="M553.5 47.20V381.20" stroke="#000" stroke-width="0.85"/>
<path d="M553.5 366.35H560.7" stroke="#555" stroke-width="1"/>
<text x="568.6" y="371.25" class="t12">0</text>
<path d="M553.5 315.63H560.7" stroke="#555" stroke-width="1"/>
<text x="568.6" y="320.53" class="t12">20</text>
<path d="M553.5 264.91H560.7" stroke="#555" stroke-width="1"/>
<text x="568.6" y="269.81" class="t12">40</text>
<path d="M553.5 214.19H560.7" stroke="#555" stroke-width="1"/>
<text x="568.6" y="219.09" class="t12">60</text>
<path d="M553.5 163.47H560.7" stroke="#555" stroke-width="1"/>
<text x="568.6" y="168.37" class="t12">80</text>
<path d="M553.5 112.75H560.7" stroke="#555" stroke-width="1"/>
<text x="568.6" y="117.65" class="t12">100</text>
<path d="M553.5 62.03H560.7" stroke="#555" stroke-width="1"/>
<text x="568.6" y="66.93" class="t12">120</text>
<path d="M553.5 51.7H560.7" stroke="#555" stroke-width="1"/>
<text x="549.7" y="43.6" class="t12 mid">ug/m3</text>
<rect x="1145.3" y="47.00" width="8.2" height="334.10" fill="#A52A2A"/>
<rect x="1145.3" y="52.57" width="8.2" height="328.53" fill="#A52A2A"/>
<rect x="1145.3" y="58.14" width="8.2" height="322.96" fill="#B82121"/>
<rect x="1145.3" y="63.71" width="8.2" height="317.39" fill="#CC1818"/>
<rect x="1145.3" y="69.27" width="8.2" height="311.83" fill="#DF0F0F"/>
<rect x="1145.3" y="74.84" width="8.2" height="306.26" fill="#F20606"/>
<rect x="1145.3" y="80.41" width="8.2" height="300.69" fill="#FB090C"/>
<rect x="1145.3" y="85.98" width="8.2" height="295.12" fill="#F02330"/>
<rect x="1145.3" y="91.55" width="8.2" height="289.55" fill="#E63C54"/>
<rect x="1145.3" y="97.12" width="8.2" height="283.99" fill="#DB5677"/>
<rect x="1145.3" y="102.68" width="8.2" height="278.42" fill="#D0709B"/>
<rect x="1145.3" y="108.25" width="8.2" height="272.85" fill="#CD758F"/>
<rect x="1145.3" y="113.82" width="8.2" height="267.28" fill="#CF6F6B"/>
<rect x="1145.3" y="119.39" width="8.2" height="261.71" fill="#D16A48"/>
<rect x="1145.3" y="124.96" width="8.2" height="256.14" fill="#D36424"/>
<rect x="1145.3" y="130.53" width="8.2" height="250.57" fill="#D55E00"/>
<rect x="1145.3" y="136.09" width="8.2" height="245.01" fill="#D96C00"/>
<rect x="1145.3" y="141.66" width="8.2" height="239.44" fill="#DC7A00"/>
<rect x="1145.3" y="147.23" width="8.2" height="233.87" fill="#E08800"/>
<rect x="1145.3" y="152.80" width="8.2" height="228.30" fill="#E49600"/>
<rect x="1145.3" y="158.37" width="8.2" height="222.73" fill="#E7A405"/>
<rect x="1145.3" y="163.94" width="8.2" height="217.16" fill="#E9B313"/>
<rect x="1145.3" y="169.50" width="8.2" height="211.60" fill="#EBC221"/>
<rect x="1145.3" y="175.07" width="8.2" height="206.03" fill="#EDD02F"/>
<rect x="1145.3" y="180.64" width="8.2" height="200.46" fill="#EFDF3D"/>
<rect x="1145.3" y="186.21" width="8.2" height="194.89" fill="#EEE459"/>
<rect x="1145.3" y="191.78" width="8.2" height="189.32" fill="#ECE47C"/>
<rect x="1145.3" y="197.35" width="8.2" height="183.75" fill="#EAE59F"/>
<rect x="1145.3" y="202.91" width="8.2" height="178.19" fill="#E7E5C2"/>
<rect x="1145.3" y="208.48" width="8.2" height="172.62" fill="#E5E5E5"/>
<rect x="1145.3" y="214.05" width="8.2" height="167.05" fill="#E5E5E5"/>
<rect x="1145.3" y="219.62" width="8.2" height="161.48" fill="#CFE0CF"/>
<rect x="1145.3" y="225.19" width="8.2" height="155.91" fill="#BADBBA"/>
<rect x="1145.3" y="230.76" width="8.2" height="150.34" fill="#A4D6A4"/>
<rect x="1145.3" y="236.32" width="8.2" height="144.78" fill="#8ED18E"/>
<rect x="1145.3" y="241.89" width="8.2" height="139.21" fill="#78CB7C"/>
<rect x="1145.3" y="247.46" width="8.2" height="133.64" fill="#5EC27A"/>
<rect x="1145.3" y="253.03" width="8.2" height="128.07" fill="#44B878"/>
<rect x="1145.3" y="258.60" width="8.2" height="122.50" fill="#2BAE76"/>
<rect x="1145.3" y="264.17" width="8.2" height="116.94" fill="#11A474"/>
<rect x="1145.3" y="269.73" width="8.2" height="111.37" fill="#009B77"/>
<rect x="1145.3" y="275.30" width="8.2" height="105.80" fill="#009284"/>
<rect x="1145.3" y="280.87" width="8.2" height="100.23" fill="#008991"/>
<rect x="1145.3" y="286.44" width="8.2" height="94.66" fill="#00809E"/>
<rect x="1145.3" y="292.01" width="8.2" height="89.09" fill="#0077AB"/>
<rect x="1145.3" y="297.58" width="8.2" height="83.52" fill="#026BBA"/>
<rect x="1145.3" y="303.14" width="8.2" height="77.96" fill="#065ECA"/>
<rect x="1145.3" y="308.71" width="8.2" height="72.39" fill="#0950DA"/>
<rect x="1145.3" y="314.28" width="8.2" height="66.82" fill="#0D42EA"/>
<rect x="1145.3" y="319.85" width="8.2" height="61.25" fill="#1135FA"/>
<rect x="1145.3" y="325.42" width="8.2" height="55.68" fill="#262EFD"/>
<rect x="1145.3" y="330.99" width="8.2" height="50.12" fill="#432AFA"/>
<rect x="1145.3" y="336.55" width="8.2" height="44.55" fill="#6027F7"/>
<rect x="1145.3" y="342.12" width="8.2" height="38.98" fill="#7E24F4"/>
<rect x="1145.3" y="347.69" width="8.2" height="33.41" fill="#9B21F1"/>
<rect x="1145.3" y="353.26" width="8.2" height="27.84" fill="#9620DF"/>
<rect x="1145.3" y="358.83" width="8.2" height="22.27" fill="#8B21CA"/>
<rect x="1145.3" y="364.40" width="8.2" height="16.70" fill="#7F21B5"/>
<rect x="1145.3" y="369.96" width="8.2" height="11.14" fill="#7422A0"/>
<rect x="1145.3" y="375.53" width="8.2" height="5.57" fill="#68228B"/>
<path d="M1153.5 47.00H1145.3V381.10H1153.5" fill="none" stroke="#999" stroke-width="1"/>
<path d="M1153.5 47.00V381.10" stroke="#000" stroke-width="0.85"/>
<path d="M1153.5 50.20H1160.6" stroke="#555" stroke-width="1"/>
<text x="1168.5" y="55.10" class="t12">550</text>
<path d="M1153.5 104.40H1160.6" stroke="#555" stroke-width="1"/>
<text x="1168.5" y="109.30" class="t12">40</text>
<path d="M1153.5 159.50H1160.6" stroke="#555" stroke-width="1"/>
<text x="1168.5" y="164.40" class="t12">20</text>
<path d="M1153.5 214.20H1160.6" stroke="#555" stroke-width="1"/>
<text x="1168.5" y="219.10" class="t12">0</text>
<path d="M1153.5 269.20H1160.6" stroke="#555" stroke-width="1"/>
<text x="1168.5" y="274.10" class="t12">-20</text>
<path d="M1153.5 323.30H1160.6" stroke="#555" stroke-width="1"/>
<text x="1168.5" y="328.20" class="t12">-40</text>
<path d="M1153.5 378.30H1160.6" stroke="#555" stroke-width="1"/>
<text x="1168.5" y="383.20" class="t12">-200</text>
<text x="1149.6" y="43.6" class="t12 mid">ug/m3</text>
<text x="271.5" y="19.6" class="ttl">EMBER 36km: ATOTIJ_AVG on 09/04/2023</text>
<text x="871.5" y="19.6" class="ttl">EMBER bias: ATOTIJ_AVG on 09/04/2023</text>
<text x="140" y="447" class="t12" textLength="262.7" lengthAdjust="spacing">Domain size: 31x42 | Max Model = 67 at (25, 23)</text>
<text x="271.3" y="461.6" class="t12 mid">Max Obs: 140</text>
<text x="871.3" y="447" class="t12 mid">Bias Summary: [ min, 25th %, 50th %, 75th %, max ]</text>
<text y="461.6" class="t12" xml:space="preserve"><tspan x="807.8">[ -130,   </tspan><tspan x="850.6">-2.7,   </tspan><tspan x="884.3">-1.2,   </tspan><tspan x="916.7">0.25,   </tspan><tspan x="952.8">5.2 </tspan><tspan x="972.6">]</tspan></text>
</svg>
</body>
</html>
